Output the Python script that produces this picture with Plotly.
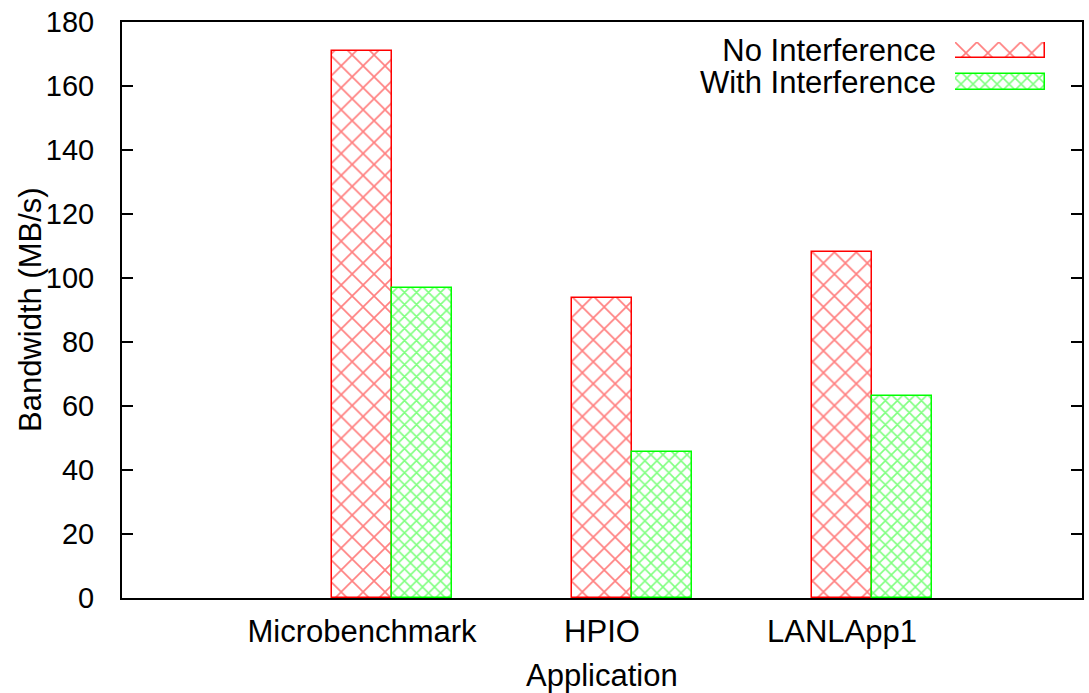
import numpy as np
import plotly.graph_objects as go

categories = ["Microbenchmark", "HPIO", "LANLApp1"]
series_names = ["No Interference", "With Interference"]
no_interference = [171.0, 93.7, 108.2]
with_interference = [96.9, 45.6, 63.1]
y_ticks = list(range(0, 181, 20))
x_title = "Application"
y_title = "Bandwidth (MB/s)"

RED = "#ff0000"
GREEN = "#00ff00"
FONT = "Liberation Sans, Arial, Helvetica, sans-serif"
FS = 31

idx = np.arange(len(categories))
bw = 0.25

red_pat = dict(shape="x", fgcolor=RED, bgcolor="white", size=15.5, solidity=0.2)
green_pat = dict(shape="x", fgcolor=GREEN, bgcolor="white", size=8.5, solidity=0.34)

fig = go.Figure()
fig.add_trace(go.Bar(
    x=idx, y=no_interference, width=bw, name=series_names[0],
    marker=dict(color="white", line=dict(color=RED, width=1.5), pattern=red_pat),
    showlegend=False,
))
fig.add_trace(go.Bar(
    x=idx + bw, y=with_interference, width=bw, name=series_names[1],
    marker=dict(color="white", line=dict(color=GREEN, width=1.5), pattern=green_pat),
    showlegend=False,
))

# legend drawn as a small inset of horizontal bars
fig.add_trace(go.Bar(
    x=[1], y=[1], orientation="h", width=0.5, xaxis="x2", yaxis="y2",
    marker=dict(color="white", line=dict(color=RED, width=1.5), pattern=red_pat),
    showlegend=False, hoverinfo="skip",
))
fig.add_trace(go.Bar(
    x=[1], y=[0], orientation="h", width=0.5, xaxis="x2", yaxis="y2",
    marker=dict(color="white", line=dict(color=GREEN, width=1.5), pattern=green_pat),
    showlegend=False, hoverinfo="skip",
))

tfont = dict(family=FONT, size=FS, color="black")
yfont = dict(family=FONT, size=29, color="black")

fig.update_layout(
    width=1089, height=693,
    margin=dict(l=122, r=7, t=22, b=95),
    paper_bgcolor="white", plot_bgcolor="white",
    font=dict(family=FONT, size=FS, color="black"),
    barmode="overlay",
    bargap=0,
    xaxis=dict(
        range=[-1, 3], tickvals=list(idx), ticktext=categories,
        showline=True, linecolor="black", linewidth=2, mirror=True,
        ticks="", showgrid=False, zeroline=False, automargin=False,
        tickfont=tfont, ticklabelstandoff=5,
    ),
    yaxis=dict(
        range=[0, 180], tickvals=y_ticks,
        showline=True, linecolor="black", linewidth=2, mirror="ticks",
        ticks="inside", ticklen=11, tickwidth=2, tickcolor="black",
        showgrid=False, zeroline=False, automargin=False,
        tickfont=yfont, ticklabelstandoff=20,
    ),
    xaxis2=dict(domain=[0.8677, 0.9615], range=[0, 1], anchor="y2",
                showticklabels=False, showgrid=False, zeroline=False, showline=False, fixedrange=True),
    yaxis2=dict(domain=[0.8819, 0.9653], range=[-0.25, 1.25], anchor="x2",
                tickvals=[1, 0], ticktext=series_names, ticks="", tickfont=tfont,
                showgrid=False, zeroline=False, showline=False, fixedrange=True,
                ticklabelstandoff=18),
    annotations=[
        dict(text=x_title, xref="paper", yref="paper", x=0.5, y=-0.135,
             xanchor="center", yanchor="middle", showarrow=False, font=tfont),
        dict(text=y_title, xref="paper", yref="paper", x=-0.0958, y=0.5,
             xanchor="center", yanchor="middle", textangle=-90, showarrow=False, font=tfont),
    ],
)

fig.write_html("out.html")
